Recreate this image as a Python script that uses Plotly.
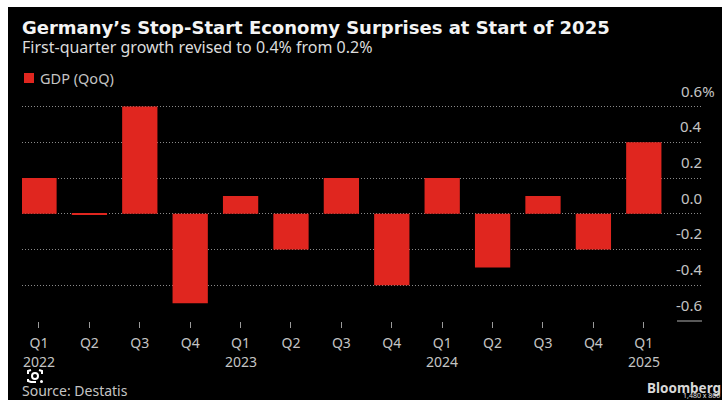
import plotly.graph_objects as go

W, H = 722, 400

quarters = ["Q1", "Q2", "Q3", "Q4", "Q1", "Q2", "Q3", "Q4", "Q1", "Q2", "Q3", "Q4", "Q1"]
years = ["2022", "", "", "", "2023", "", "", "", "2024", "", "", "", "2025"]
gdp_qoq = [0.2, -0.005, 0.6, -0.5, 0.1, -0.2, 0.2, -0.4, 0.2, -0.3, 0.1, -0.2, 0.4]
grid_values = [0.6, 0.4, 0.2, 0.0, -0.2, -0.4]
axis_labels = [(0.6, "0.6%"), (0.4, "0.4"), (0.2, "0.2"), (0.0, "0.0"),
               (-0.2, "-0.2"), (-0.4, "-0.4"), (-0.6, "-0.6")]

RED = "#e0261f"
FONT = "Noto Sans"
LABEL = "#c4c4c4"

Y_TOP, Y_BOTTOM = 0.62, -0.6
PX_PER_UNIT = (321 - 106.5) / 1.2


def px(x):
    return x / W


def py(y):
    return 1 - y / H


positions = list(range(len(gdp_qoq)))

fig = go.Figure(
    go.Bar(x=positions, y=gdp_qoq, width=0.7, marker=dict(color=RED, line_width=0), showlegend=False)
)

shapes = [
    # black panel inside the white page edge
    dict(type="rect", xref="paper", yref="paper", layer="below",
         x0=px(8), x1=1, y0=0, y1=py(7), fillcolor="#000000", line_width=0),
    # legend swatch
    dict(type="rect", xref="paper", yref="paper",
         x0=px(24), x1=px(34), y0=py(83), y1=py(73), fillcolor=RED, line_width=0),
    # short baseline under the lowest axis label
    dict(type="line", xref="paper", yref="paper",
         x0=px(677), x1=px(702), y0=py(321), y1=py(321), line=dict(color="#b0b0b0", width=1)),
    # viewfinder badge in the lower left
    dict(type="circle", xref="paper", yref="paper",
         x0=px(32), x1=px(38), y0=py(379), y1=py(373), line=dict(color="#ffffff", width=2)),
    dict(type="path", xref="paper", yref="paper",
         path=f"M {px(28)} {py(374)} L {px(28)} {py(371)} L {px(31)} {py(370)} "
              f"M {px(39)} {py(370)} L {px(42)} {py(371)} L {px(42)} {py(374)} "
              f"M {px(28)} {py(379)} L {px(28)} {py(381)} L {px(31)} {py(382)} L {px(36)} {py(382)}",
         line=dict(color="#ffffff", width=2)),
    dict(type="circle", xref="paper", yref="paper",
         x0=px(40), x1=px(43), y0=py(383), y1=py(380), fillcolor="#ffffff", line_width=0),
]

annotations = [
    dict(text="<b>Germany’s Stop-Start Economy Surprises at Start of 2025</b>", x=px(21), y=py(27),
         font=dict(family="DejaVu Sans", size=18, color="#f4f4f4")),
    dict(text="First-quarter growth revised to 0.4% from 0.2%", x=px(21), y=py(47),
         font=dict(family=FONT, size=16, color="#dcdcdc")),
    dict(text="GDP (QoQ)", x=px(39), y=py(78), font=dict(family=FONT, size=14.5, color=LABEL)),
    dict(text="Source: Destatis", x=px(21), y=py(390), font=dict(family=FONT, size=14, color=LABEL)),
    dict(text="<b>Bloomberg</b>", x=px(646), y=py(388), font=dict(family=FONT, size=13.5, color="#d8d8d8")),
    dict(text="1,480 x 800", x=px(682), y=py(395), font=dict(family=FONT, size=7, color="#e0e0e0")),
]
annotations = [dict(a, xref="paper", yref="paper", xanchor="left", yanchor="middle",
                    showarrow=False, borderpad=0) for a in annotations]

# Axis labels sit just above their gridlines, so they are placed by data value
for value, label in axis_labels:
    is_top = label.endswith("%")
    annotations.append(dict(
        text=label, xref="paper", yref="y", x=px(680) if is_top else px(703), y=value,
        xanchor="left" if is_top else "right", yanchor="bottom", yshift=5, showarrow=False,
        borderpad=0, font=dict(family=FONT, size=15, color=LABEL),
    ))

# Year labels hang below the first quarter of each year
for pos, year in zip(positions, years):
    if year:
        annotations.append(dict(
            text=year, xref="x", yref="paper", x=pos, y=py(361.5), xanchor="center", yanchor="middle",
            showarrow=False, borderpad=0, font=dict(family=FONT, size=14, color=LABEL),
        ))

fig.update_layout(
    width=W, height=H, margin=dict(l=0, r=0, t=0, b=0), autosize=False,
    paper_bgcolor="#ffffff", plot_bgcolor="rgba(0,0,0,0)",
    bargap=0.3, shapes=shapes, annotations=annotations,
    font=dict(family=FONT, color=LABEL),
    xaxis=dict(
        domain=[px(22), px(702)], range=[-0.337, 13.155],
        tickmode="array", tickvals=positions, ticktext=quarters,
        ticks="outside", ticklen=6, tickcolor="#9a9a9a", tickwidth=1,
        tickfont=dict(family=FONT, size=14, color=LABEL), ticklabelstandoff=3,
        showgrid=False, zeroline=False, showline=False,
    ),
    yaxis=dict(
        domain=[py(321), py(321 - (Y_TOP - Y_BOTTOM) * PX_PER_UNIT)], range=[Y_BOTTOM, Y_TOP], side="right",
        tickmode="array", tickvals=grid_values, showticklabels=False, ticks="",
        showgrid=True, gridcolor="#8a8a8a", griddash="1px,2px", gridwidth=1,
        zeroline=False, showline=False,
    ),
)

fig.write_html("out.html", config={"displayModeBar": False})
